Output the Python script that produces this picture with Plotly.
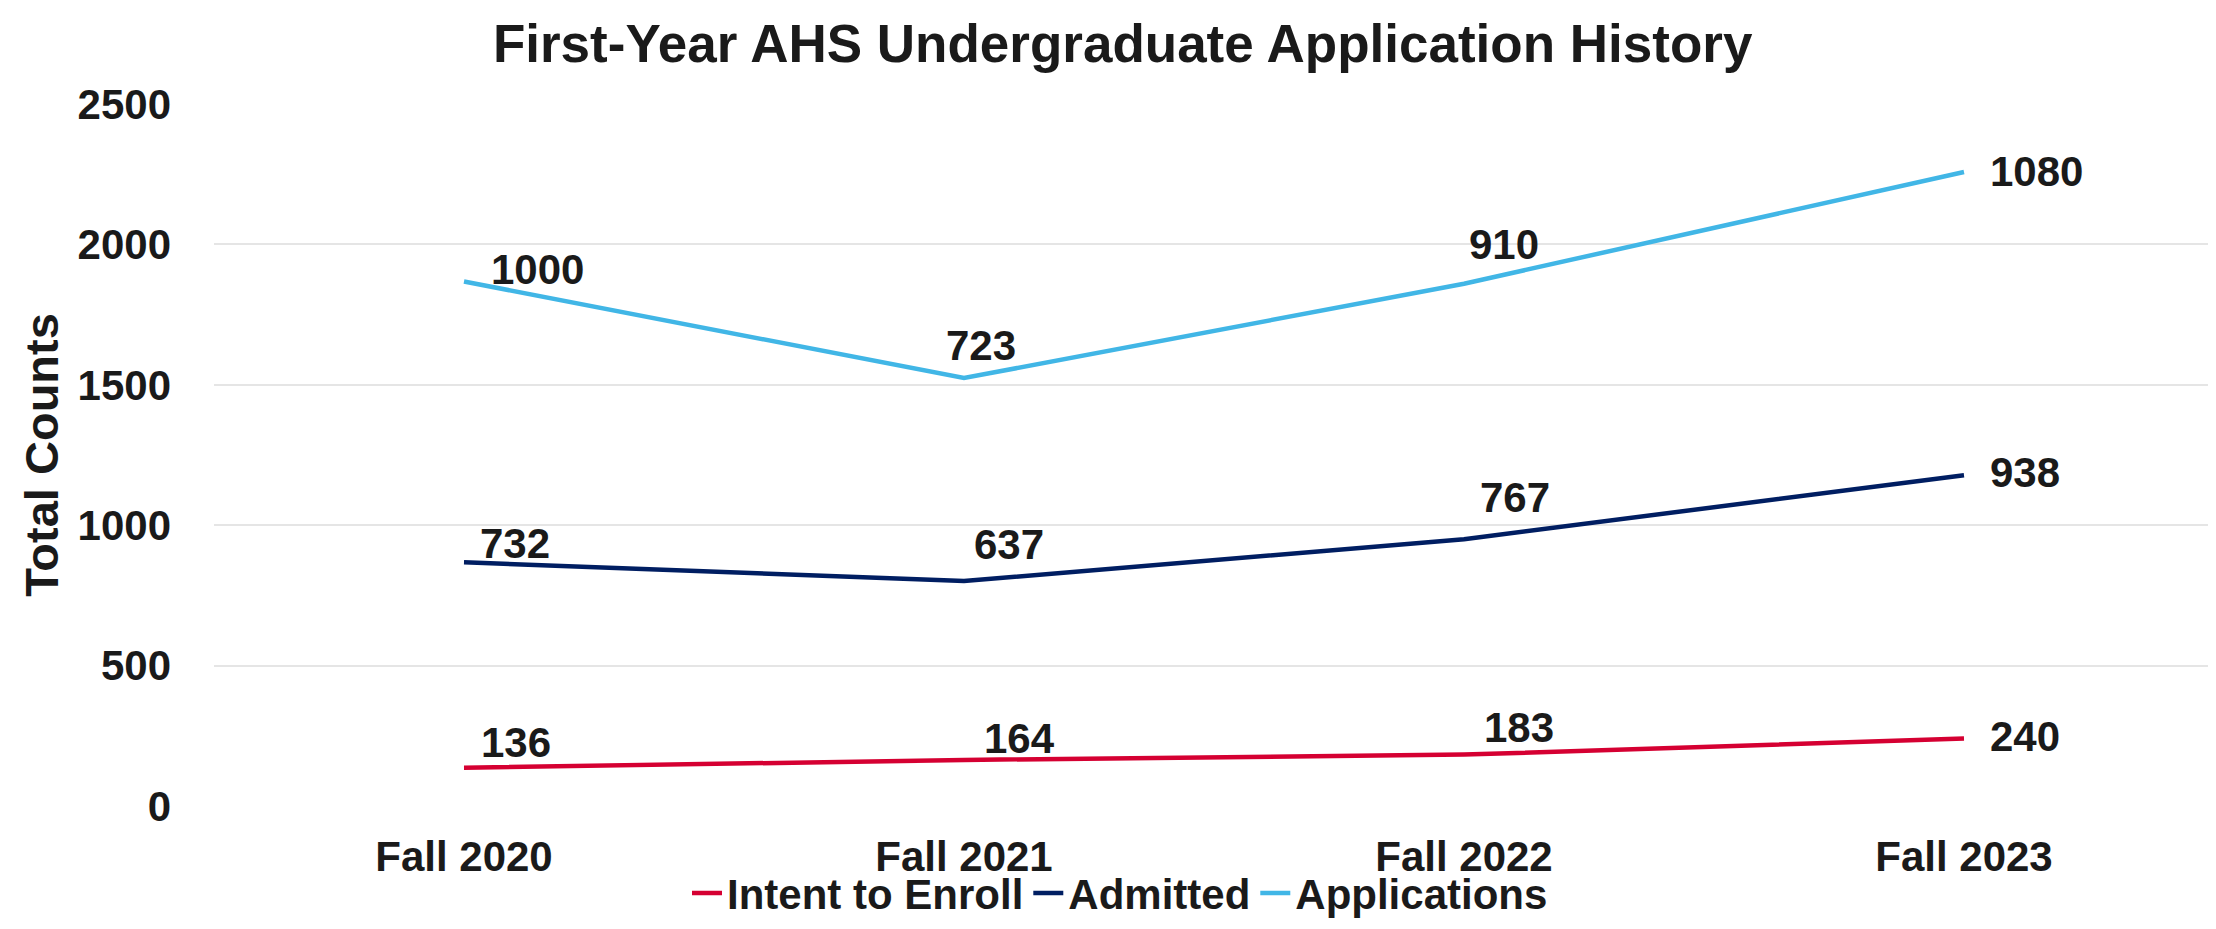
import plotly.graph_objects as go

terms = ["Fall 2020", "Fall 2021", "Fall 2022", "Fall 2023"]
intent_to_enroll = [136, 164, 183, 240]
admitted = [732, 637, 767, 938]
applications = [1000, 723, 910, 1080]

FONT = "Liberation Sans, Arial, sans-serif"
INK = "#1a1a1a"

# label nudges in px (dx, dy), last point of each series sits to the right
label_nudge = {
    "Intent to Enroll": [(52, 25), (55, 21), (55, 27), (24, 2)],
    "Admitted": [(51, 19), (45, 37), (51, 42), (24, 3)],
    "Applications": [(73, 12), (17, 33), (40, 39), (24, 0)],
}

series = [
    ("Intent to Enroll", intent_to_enroll, "#D50032"),
    ("Admitted", admitted, "#001E62"),
    ("Applications", applications, "#41B6E6"),
]

fig = go.Figure()
base = [0] * len(terms)
for name, vals, color in series:
    # stacked line chart, same as the Excel original
    fig.add_trace(go.Scatter(
        x=terms,
        y=vals,
        name="<b>" + name + "</b>",
        stackgroup="one",
        fill="none",
        mode="lines",
        line=dict(color=color, width=4.5),
    ))
    base = [b + v for b, v in zip(base, vals)]
    for i, (term, v, top) in enumerate(zip(terms, vals, base)):
        dx, dy = label_nudge[name][i]
        last = i == len(terms) - 1
        fig.add_annotation(
            x=term, y=top,
            text="<b>%d</b>" % v,
            showarrow=False,
            xanchor="left" if last else "center",
            yanchor="middle",
            xshift=dx, yshift=dy,
            font=dict(family=FONT, size=42, color=INK),
        )

fig.update_layout(
    width=2216,
    height=929,
    paper_bgcolor="white",
    plot_bgcolor="white",
    font=dict(family=FONT, color=INK),
    title=dict(
        text="<b>First-Year AHS Undergraduate Application History</b>",
        x=0.503, xanchor="center", y=0.962, yanchor="middle",
        font=dict(family=FONT, size=53, color=INK),
    ),
    margin=dict(l=206, r=10, t=96, b=117),
    legend=dict(
        orientation="h",
        x=0.453, xanchor="center",
        y=-0.1243, yanchor="middle",
        bgcolor="rgba(0,0,0,0)",
        font=dict(family=FONT, size=42, color=INK),
        itemwidth=30,
    ),
    showlegend=True,
)

fig.update_xaxes(
    type="category",
    range=[-0.5, 3.5],
    showgrid=False,
    showline=False,
    ticks="",
    tickfont=dict(family=FONT, size=42, color=INK),
    tickprefix="<b>", ticksuffix="</b>",
    ticklabelstandoff=22,
)
fig.update_yaxes(
    range=[0, 2500],
    dtick=500,
    showgrid=True,
    gridcolor="#E5E5E5",
    gridwidth=2,
    zeroline=False,
    showline=False,
    tickfont=dict(family=FONT, size=42, color=INK),
    tickprefix="<b>", ticksuffix="</b>",
    ticklabelstandoff=42,
    title=dict(text="<b>Total Counts</b>", font=dict(family=FONT, size=47, color=INK), standoff=4),
)

fig.write_html("out.html")
